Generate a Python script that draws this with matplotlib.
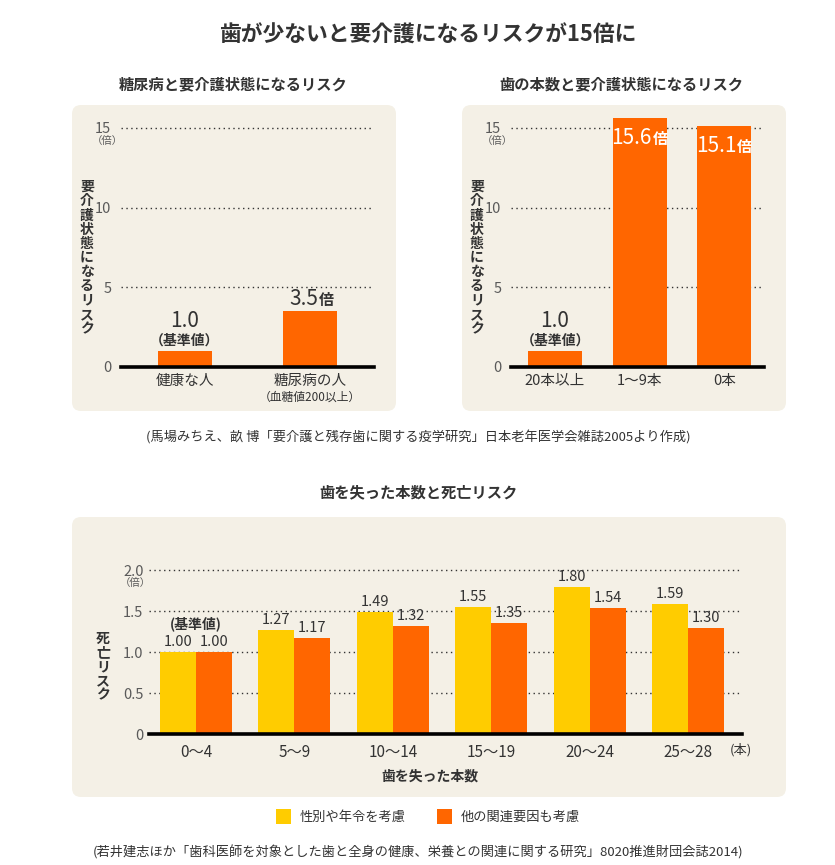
import numpy as np
import matplotlib
matplotlib.use("Agg")
import matplotlib.pyplot as plt
from matplotlib.patches import FancyBboxPatch, Rectangle

plt.rcParams['font.family'] = ['Noto Sans CJK JP', 'DejaVu Sans']

# data
diab_cats = ['健康な人', '糖尿病の人']
diab_risk = [1.0, 3.5]
teeth_cats = ['20本以上', '1〜9本', '0本']
teeth_risk = [1.0, 15.6, 15.1]
lost_cats = ['0〜4', '5〜9', '10〜14', '15〜19', '20〜24', '25〜28']
# bar heights use the printed labels; in the source image some bars are drawn
# a bit off their labels (e.g. 1.32 / 1.35 / 1.30 all drawn near 1.27)
risk_adj_sex_age = [1.00, 1.27, 1.49, 1.55, 1.80, 1.59]
risk_adj_all = [1.00, 1.17, 1.32, 1.35, 1.54, 1.30]

ORANGE = '#FF6600'
YELLOW = '#FFCC00'
PANEL = '#F4F0E6'
TXT = '#333333'
TICK = '#5a5a5a'

W, H = 835, 865
fig = plt.figure(figsize=(W / 100, H / 100), dpi=100)
fig.patch.set_facecolor('white')

# pixel-space overlay for boxes and free text
bg = fig.add_axes([0, 0, 1, 1])
bg.set_xlim(0, W)
bg.set_ylim(H, 0)
bg.axis('off')


def box(x0, y0, x1, y1):
    bg.add_patch(FancyBboxPatch((x0, y0), x1 - x0, y1 - y0,
                                boxstyle='round,pad=0,rounding_size=9',
                                fc=PANEL, ec='none'))


def px_axes(x0, y0, x1, y1):
    ax = fig.add_axes([x0 / W, 1 - y1 / H, (x1 - x0) / W, (y1 - y0) / H])
    ax.set_facecolor('none')
    for s in ax.spines.values():
        s.set_visible(False)
    ax.tick_params(length=0, colors=TICK, labelsize=10.5)
    return ax


def grid(ax, ticks):
    for v in ticks[1:]:
        ax.axhline(v, color='#333333', lw=1, ls=(0, (1, 2.5)), zorder=0)
    ax.axhline(0, color='black', lw=2.6, zorder=3, clip_on=False)


def vlabel(x, y, s, size=10):
    bg.text(x, y, '\n'.join(s), ha='center', va='center', fontsize=size,
            fontweight='bold', color=TXT, linespacing=1.02)


def times(ax, x, y, num, dy, color, size, split):
    ax.annotate(num, (x, y), xytext=(split, dy), textcoords='offset pixels',
                ha='right', va='baseline', fontsize=size, color=color,
                annotation_clip=False)
    ax.annotate('倍', (x, y), xytext=(split + 1, dy), textcoords='offset pixels',
                ha='left', va='baseline', fontsize=size * 0.72, color=color,
                fontweight='bold', annotation_clip=False)


def base_label(ax, x, y):
    ax.annotate('1.0', (x, y), xytext=(0, 24), textcoords='offset pixels',
                ha='center', va='baseline', fontsize=15, color=TXT)
    ax.annotate('（基準値）', (x, y), xytext=(0, 6), textcoords='offset pixels',
                ha='center', va='baseline', fontsize=10, color=TXT, fontweight='bold')


# titles
bg.text(428, 35, '歯が少ないと要介護になるリスクが15倍に', ha='center', va='center',
        fontsize=15.7, fontweight='bold', color=TXT)
bg.text(233, 84, '糖尿病と要介護状態になるリスク', ha='center', va='center',
        fontsize=11, fontweight='bold', color=TXT)
bg.text(621, 84, '歯の本数と要介護状態になるリスク', ha='center', va='center',
        fontsize=11, fontweight='bold', color=TXT)
bg.text(418, 492, '歯を失った本数と死亡リスク', ha='center', va='center',
        fontsize=11, fontweight='bold', color=TXT)

box(72, 105, 396, 411)
box(462, 105, 786, 411)
box(72, 517, 786, 797)

# ---- panel 1
ax1 = px_axes(121, 112, 374, 367)
x1 = np.arange(len(diab_cats))
ax1.bar(x1, diab_risk, width=0.43, color=ORANGE, zorder=2)
ax1.set_xlim(-0.51, 1.51)
ax1.set_ylim(0, 16)
ax1.set_yticks([0, 5, 10, 15])
ax1.tick_params(axis='y', pad=7)
ax1.set_xticks(x1, diab_cats)
ax1.tick_params(axis='x', pad=5, labelsize=10.5, labelcolor=TXT)
grid(ax1, [0, 5, 10, 15])
base_label(ax1, x1[0], diab_risk[0])
times(ax1, x1[1], diab_risk[1], '3.5', 6, TXT, 15, 8)
ax1.annotate('（血糖値200以上）', (x1[1], 0), xytext=(0, -30), textcoords='offset pixels',
             ha='center', va='center', fontsize=8.5, color=TXT, annotation_clip=False)
bg.text(107, 141, '（倍）', ha='center', va='center', fontsize=7.5, color=TICK)
vlabel(87, 258, '要介護状態になるリスク')

# ---- panel 2
ax2 = px_axes(511, 112, 764, 367)
x2 = np.arange(len(teeth_cats))
ax2.bar(x2, teeth_risk, width=0.64, color=ORANGE, zorder=2)
ax2.set_xlim(-0.52, 2.47)
ax2.set_ylim(0, 16)
ax2.set_yticks([0, 5, 10, 15])
ax2.tick_params(axis='y', pad=7)
ax2.set_xticks(x2, teeth_cats)
ax2.tick_params(axis='x', pad=5, labelsize=10.5, labelcolor=TXT)
grid(ax2, [0, 5, 10, 15])
base_label(ax2, x2[0], teeth_risk[0])
for i in (1, 2):
    times(ax2, x2[i], teeth_risk[i], f'{teeth_risk[i]:.1f}', -26, 'white', 15, 12)
bg.text(497, 141, '（倍）', ha='center', va='center', fontsize=7.5, color=TICK)
vlabel(477, 258, '要介護状態になるリスク')

bg.text(418, 437, '(馬場みちえ、畝 博「要介護と残存歯に関する疫学研究」日本老年医学会雑誌2005より作成)',
        ha='center', va='center', fontsize=9.5, color=TXT)

# ---- panel 3
ax3 = px_axes(149, 562, 742, 734)
x3 = np.arange(len(lost_cats))
bw = 0.366
ax3.bar(x3 - bw / 2, risk_adj_sex_age, width=bw, color=YELLOW, zorder=2)
ax3.bar(x3 + bw / 2, risk_adj_all, width=bw, color=ORANGE, zorder=2)
ax3.set_xlim(-0.478, 5.55)
ax3.set_ylim(0, 2.1)
yt = [0, 0.5, 1.0, 1.5, 2.0]
ax3.set_yticks(yt, ['0', '0.5', '1.0', '1.5', '2.0'])
ax3.tick_params(axis='y', pad=4)
ax3.set_xticks(x3, lost_cats)
ax3.tick_params(axis='x', pad=7, labelsize=11, labelcolor=TXT)
grid(ax3, yt)
for i in range(len(lost_cats)):
    for xx, v in ((x3[i] - bw / 2, risk_adj_sex_age[i]), (x3[i] + bw / 2, risk_adj_all[i])):
        ax3.annotate(f'{v:.2f}', (xx, v), xytext=(0, 6), textcoords='offset pixels',
                     ha='center', va='baseline', fontsize=10.5, color=TXT)
ax3.annotate('(基準値)', (x3[0], risk_adj_sex_age[0]), xytext=(0, 24),
             textcoords='offset pixels', ha='center', va='baseline',
             fontsize=10, color=TXT, fontweight='bold')
bg.text(135, 583, '（倍）', ha='center', va='center', fontsize=7.5, color=TICK)
bg.text(741, 750, '(本)', ha='center', va='center', fontsize=9.5, color=TXT)
bg.text(430, 777, '歯を失った本数', ha='center', va='center', fontsize=10,
        fontweight='bold', color=TXT)
vlabel(103, 667, '死亡リスク')

# legend
bg.add_patch(Rectangle((276, 809), 15, 15, fc=YELLOW, ec='none'))
bg.text(300, 817, '性別や年令を考慮', ha='left', va='center', fontsize=9.5, color=TXT)
bg.add_patch(Rectangle((437, 809), 15, 15, fc=ORANGE, ec='none'))
bg.text(461, 817, '他の関連要因も考慮', ha='left', va='center', fontsize=9.5, color=TXT)

bg.text(418, 852, '(若井建志ほか「歯科医師を対象とした歯と全身の健康、栄養との関連に関する研究」8020推進財団会誌2014)',
        ha='center', va='center', fontsize=9.5, color=TXT)

fig.savefig('out.png', dpi=100)
